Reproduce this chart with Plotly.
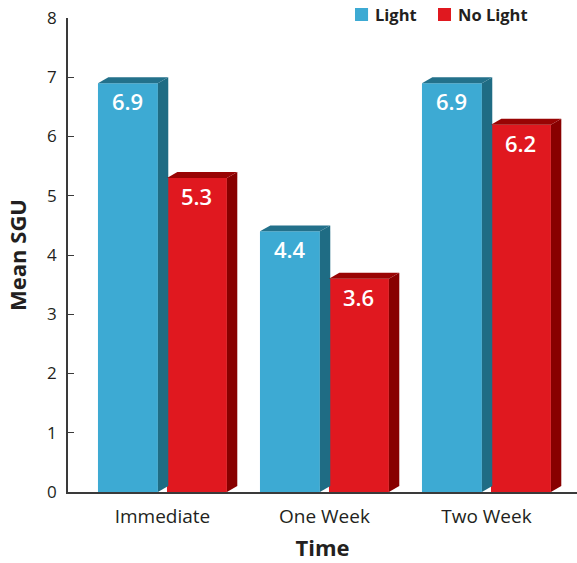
import plotly.graph_objects as go

# Mean SGU by time point, with and without light
categories = ["Immediate", "One Week", "Two Week"]
light = [6.9, 4.4, 6.9]
no_light = [5.3, 3.6, 6.2]
y_ticks = [0, 1, 2, 3, 4, 5, 6, 7, 8]

# styling
FRONT = {"Light": "#3DAAD3", "No Light": "#E0181F"}
SIDE = {"Light": "#1F6C84", "No Light": "#880000"}
TOP = {"Light": "#23718B", "No Light": "#990404"}
TEXT = "#231F20"
AXIS = "#3a3a3a"

BAR_W = 0.37        # front-face width in category units
OFFSET = 0.213      # half distance between the paired bars
DX = 0.064          # depth of the extruded faces (x units)
DY = 0.10           # depth of the extruded faces (y units)

fig = go.Figure()
shapes = []
annotations = []

series = [("Light", light, -OFFSET), ("No Light", no_light, OFFSET)]
for name, vals, off in series:
    xs = [i + off for i in range(len(categories))]
    fig.add_trace(go.Bar(
        x=xs, y=vals, width=BAR_W, name=name,
        marker=dict(color=FRONT[name], line=dict(width=0)),
        hoverinfo="skip", showlegend=False,
    ))
    for x, v in zip(xs, vals):
        x0, x1 = x - BAR_W / 2, x + BAR_W / 2
        # side face
        shapes.append(dict(
            type="path", xref="x", yref="y", layer="above",
            path=f"M{x1},0 L{x1 + DX},{DY} L{x1 + DX},{v + DY} L{x1},{v} Z",
            fillcolor=SIDE[name], line=dict(width=0),
        ))
        # top face
        shapes.append(dict(
            type="path", xref="x", yref="y", layer="above",
            path=f"M{x0},{v} L{x0 + DX},{v + DY} L{x1 + DX},{v + DY} L{x1},{v} Z",
            fillcolor=TOP[name], line=dict(width=0),
        ))
        annotations.append(dict(
            x=x, y=v, xref="x", yref="y", text=f"{v:.1f}",
            showarrow=False, yanchor="top", yshift=-1,
            font=dict(family="Open Sans", size=22, color="white", weight=600),
        ))

# legend drawn as swatches + labels across the top right
legend_items = [("Light", 0.5639), ("No Light", 0.7269)]
SW = 0.0256   # swatch width (paper x)
for name, lx in legend_items:
    shapes.append(dict(
        type="rect", xref="paper", yref="paper",
        x0=lx, x1=lx + SW, y0=0.9937, y1=1.0211,
        fillcolor=FRONT[name], line=dict(width=0),
    ))
    annotations.append(dict(
        x=lx + SW + 0.0088, y=1.0074, xref="paper", yref="paper",
        text=name, showarrow=False, xanchor="left", yanchor="middle",
        font=dict(family="Open Sans", size=16.5, color=TEXT, weight=700),
    ))

fig.update_layout(
    width=577, height=563,
    margin=dict(l=68, r=0, t=18, b=71),
    paper_bgcolor="white", plot_bgcolor="white",
    barmode="overlay",
    shapes=shapes,
    annotations=annotations,
    font=dict(family="Open Sans", color=TEXT),
    showlegend=False,
    xaxis=dict(
        range=[-0.583, 2.559],
        tickvals=list(range(len(categories))), ticktext=categories,
        showline=True, linecolor=AXIS, linewidth=1.5,
        ticks="", showgrid=False, zeroline=False,
        tickfont=dict(size=19, color=TEXT),
        ticklabelstandoff=6,
        title=dict(text="Time", standoff=13,
                   font=dict(size=22, color=TEXT, weight=700)),
    ),
    yaxis=dict(
        range=[0, 8], tickvals=y_ticks,
        showline=True, linecolor=AXIS, linewidth=1.5,
        ticks="inside", ticklen=6, tickcolor=AXIS, tickwidth=1,
        showgrid=False, zeroline=False,
        tickfont=dict(size=17, color=TEXT),
        ticklabelstandoff=6,
        title=dict(text="Mean SGU", standoff=14,
                   font=dict(size=22, color=TEXT, weight=700)),
    ),
)

fig.write_html("out.html")
